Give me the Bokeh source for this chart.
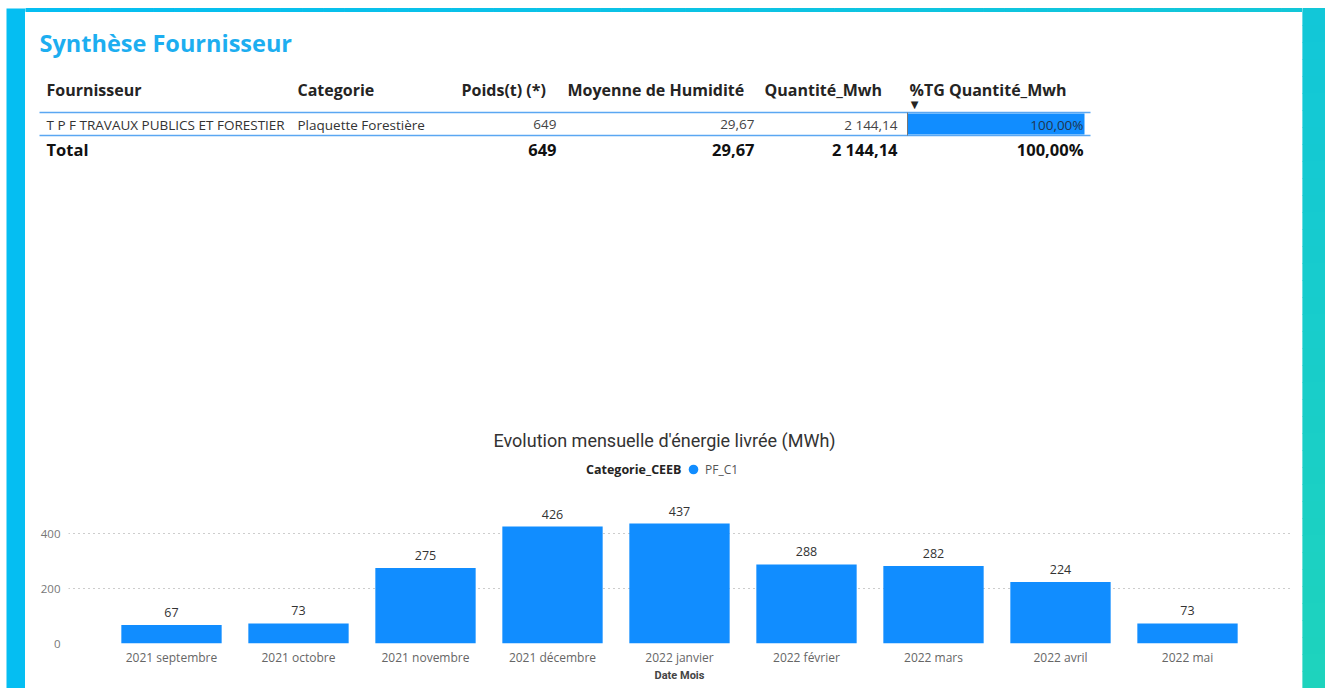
from bokeh.plotting import figure
from bokeh.models import ColumnDataSource, FactorRange, Range1d, FixedTicker, Legend, LegendItem, Label
from bokeh.layouts import row, column
from bokeh.embed import file_html
from bokeh.resources import INLINE
from bokeh.core.properties import value

# ---------------- data ----------------
months = ["2021 septembre", "2021 octobre", "2021 novembre", "2021 décembre",
          "2022 janvier", "2022 février", "2022 mars", "2022 avril", "2022 mai"]
energie_mwh = [67, 73, 275, 426, 437, 288, 282, 224, 73]
y_ticks = [0, 200, 400]
legend_title = "Categorie_CEEB"
serie_name = "PF_C1"

colonnes = ["Fournisseur", "Categorie", "Poids(t) (*)", "Moyenne de Humidité",
            "Quantité_Mwh", "%TG Quantité_Mwh"]
fournisseurs = ["T P F TRAVAUX PUBLICS ET FORESTIER"]
categories_fourn = ["Plaquette Forestière"]
poids_t = [649]
humidite_moy = [29.67]
quantite_mwh = [2144.14]
pct_tg = [100.00]

FONT = "Open Sans"
BLUE = "#118DFF"


def fr(v, dec):
    s = f"{v:,.{dec}f}"
    return s.replace(",", " ").replace(".", ",")


total_poids = sum(poids_t)
total_hum = sum(humidite_moy) / len(humidite_moy)
total_qte = sum(quantite_mwh)
total_pct = sum(pct_tg)


def lerp_color(c1, c2, t):
    a = [int(c1[i:i + 2], 16) for i in (1, 3, 5)]
    b = [int(c2[i:i + 2], 16) for i in (1, 3, 5)]
    return "#%02x%02x%02x" % tuple(round(a[k] + (b[k] - a[k]) * t) for k in range(3))


def blank(w, h, xr, yr):
    f = figure(width=w, height=h, x_range=xr, y_range=yr, output_backend="svg",
               toolbar_location=None, min_border=0, x_axis_type=None, y_axis_type=None)
    f.outline_line_color = None
    f.background_fill_color = "white"
    f.border_fill_color = "white"
    f.frame_align = False
    return f


H_TOTAL = 688
CYAN_L = "#05BEF2"
CYAN_R = "#12C7D8"

# ---------------- frame bands ----------------
left = blank(25, H_TOTAL, Range1d(0, 25), Range1d(H_TOTAL, 0))
left.quad(left=[6], right=[25], top=[8], bottom=[H_TOTAL], fill_color=CYAN_L, line_color=None)

N = 40
right_band = blank(23, H_TOTAL, Range1d(0, 23), Range1d(H_TOTAL, 0))
ys = [8 + (H_TOTAL - 8) * i / N for i in range(N + 1)]
rcols = [lerp_color(CYAN_R, "#1ED3BD", i / (N - 1)) for i in range(N)]
right_band.quad(left=[0] * N, right=[23] * N, top=ys[:-1], bottom=ys[1:],
                fill_color=rcols, line_color=rcols, line_width=1)

# ---------------- header (title + table) ----------------
H1 = 420
ph = blank(1277, H1, Range1d(25, 1302), Range1d(H1, 0))
M = 60
xs = [25 + (1302 - 25) * i / M for i in range(M + 1)]
tcols = [lerp_color(CYAN_L, CYAN_R, i / (M - 1)) for i in range(M)]
ph.quad(left=xs[:-1], right=xs[1:], top=[8] * M, bottom=[11] * M,
        fill_color=tcols, line_color=tcols, line_width=1)

ph.text(x=[39], y=[42], text=["Synthèse Fournisseur"], text_font=value(FONT), text_font_style="bold",
        text_font_size="23.5px", text_color="#1DAEF0", text_baseline="middle", text_align="left")

hdr_x = [46, 297, 461, 567, 764, 909]
ph.text(x=hdr_x, y=[89] * 6, text=colonnes, text_font=value(FONT), text_font_style="bold",
        text_font_size="16px", text_color="#252423", text_baseline="middle", text_align="left")
ph.text(x=[914], y=[104], text=["▼"], text_font=value("DejaVu Sans"), text_font_size="10px",
        text_color="#252423", text_baseline="middle", text_align="center")

# row highlight lines and data bar
ph.segment(x0=[39, 39], y0=[112, 135], x1=[1090, 1090], y1=[112, 135], line_color="#5AA7F2", line_width=1.5)
bar_w = 177
ph.quad(left=[907], right=[907 + bar_w * p / 100 for p in pct_tg], top=[113], bottom=[134],
        fill_color=BLUE, line_color=None)
ph.segment(x0=[907], y0=[112], x1=[907], y1=[135], line_color="#777777", line_width=1)

ph.text(x=[46], y=[124], text=fournisseurs, text_font=value(FONT), text_font_size="13.5px",
        text_color="#333333", text_baseline="middle", text_align="left")
ph.text(x=[297], y=[124], text=categories_fourn, text_font=value(FONT), text_font_size="13.5px",
        text_color="#333333", text_baseline="middle", text_align="left")
row_vals = [fr(poids_t[0], 0), fr(humidite_moy[0], 2), fr(quantite_mwh[0], 2), fr(pct_tg[0], 2) + "%"]
val_x = [556, 754, 897, 1083]
ph.text(x=val_x, y=[124] * 4, text=row_vals, text_font=value(FONT), text_font_size="13.5px",
        text_color=["#444444", "#444444", "#444444", "#1f3550"], text_baseline="middle", text_align="right")

tot_vals = [fr(total_poids, 0), fr(total_hum, 2), fr(total_qte, 2), fr(total_pct, 2) + "%"]
ph.text(x=[46], y=[149], text=["Total"], text_font=value(FONT), text_font_style="bold",
        text_font_size="16.5px", text_color="#111111", text_baseline="middle", text_align="left")
ph.text(x=val_x, y=[149] * 4, text=tot_vals, text_font=value(FONT), text_font_style="bold",
        text_font_size="16.5px", text_color="#111111", text_baseline="middle", text_align="right")

# ---------------- bar chart ----------------
pc = figure(width=1277, height=H_TOTAL - H1,
            x_range=FactorRange(factors=months, range_padding=0.311, range_padding_units="absolute"),
            y_range=Range1d(0, 677.5), output_backend="svg", toolbar_location=None,
            min_border_left=43, min_border_right=12, min_border_top=35, min_border_bottom=45)
pc.outline_line_color = None
pc.background_fill_color = "white"
pc.border_fill_color = "white"

src = ColumnDataSource(dict(month=months, value=energie_mwh, label=[str(v) for v in energie_mwh]))
pc.vbar(x="month", top="value", width=0.79, source=src, fill_color=BLUE, line_color=None)
pc.text(x="month", y="value", text="label", source=src, text_align="center", text_baseline="bottom",
        y_offset=-8, text_font=value(FONT), text_font_size="12.5px", text_color="#333333")

pc.title.text = "Evolution mensuelle d'énergie livrée (MWh)"
pc.title.align = "left"
pc.title.offset = 425
pc.title.standoff = 14
pc.title.text_font = "Roboto"
pc.title.text_font_style = "normal"
pc.title.text_font_size = "18px"
pc.title.text_color = "#333333"

xa = pc.xaxis[0]
xa.axis_label = "Date Mois"
xa.axis_label_text_font = "Roboto"
xa.axis_label_text_font_style = "bold"
xa.axis_label_text_font_size = "11px"
xa.axis_label_text_color = "#444444"
xa.axis_label_standoff = 0
xa.major_label_text_font = FONT
xa.major_label_text_font_size = "12px"
xa.major_label_text_color = "#666666"
xa.major_label_standoff = 5
xa.axis_line_color = None
xa.major_tick_line_color = None
xa.minor_tick_line_color = None
xa.major_tick_out = 0
xa.major_tick_in = 0
xa.minor_tick_out = 0
xa.minor_tick_in = 0

ya = pc.yaxis[0]
ya.ticker = FixedTicker(ticks=y_ticks)
ya.major_label_text_font = FONT
ya.major_label_text_font_size = "11.5px"
ya.major_label_text_color = "#777777"
ya.major_label_standoff = 8
ya.axis_line_color = None
ya.major_tick_line_color = None
ya.minor_tick_line_color = None
ya.major_tick_out = 0
ya.major_tick_in = 0
ya.minor_tick_out = 0
ya.minor_tick_in = 0

pc.xgrid.visible = False
pc.ygrid.ticker = FixedTicker(ticks=y_ticks)
pc.ygrid.grid_line_dash = "1 4"
pc.ygrid.grid_line_color = "#9a9a9a"

# legend swatch renderer: circles of size 0 on the bars (invisible), drawn only in the legend
swatch = pc.scatter(x="month", y="value", source=src, marker="circle", size=0,
                    fill_color=BLUE, line_color=None)
legend = Legend(items=[LegendItem(label=serie_name, renderers=[swatch])],
                orientation="horizontal", location=(613, 162),
                padding=0, margin=0, spacing=0, glyph_width=24, glyph_height=24,
                label_standoff=0, border_line_color=None, background_fill_alpha=0,
                label_text_font=FONT, label_text_font_size="12px", label_text_color="#555555",
                label_height=14)
pc.add_layout(legend)
pc.add_layout(Label(x=613, y=174, x_units="screen", y_units="screen", text=legend_title,
                    text_font=FONT, text_font_size="12.5px", text_font_style="bold",
                    text_color="#252423", text_align="right", text_baseline="middle"))

layout = row(left, column(ph, pc), right_band)
open("out.html", "w").write(file_html(layout, INLINE))
